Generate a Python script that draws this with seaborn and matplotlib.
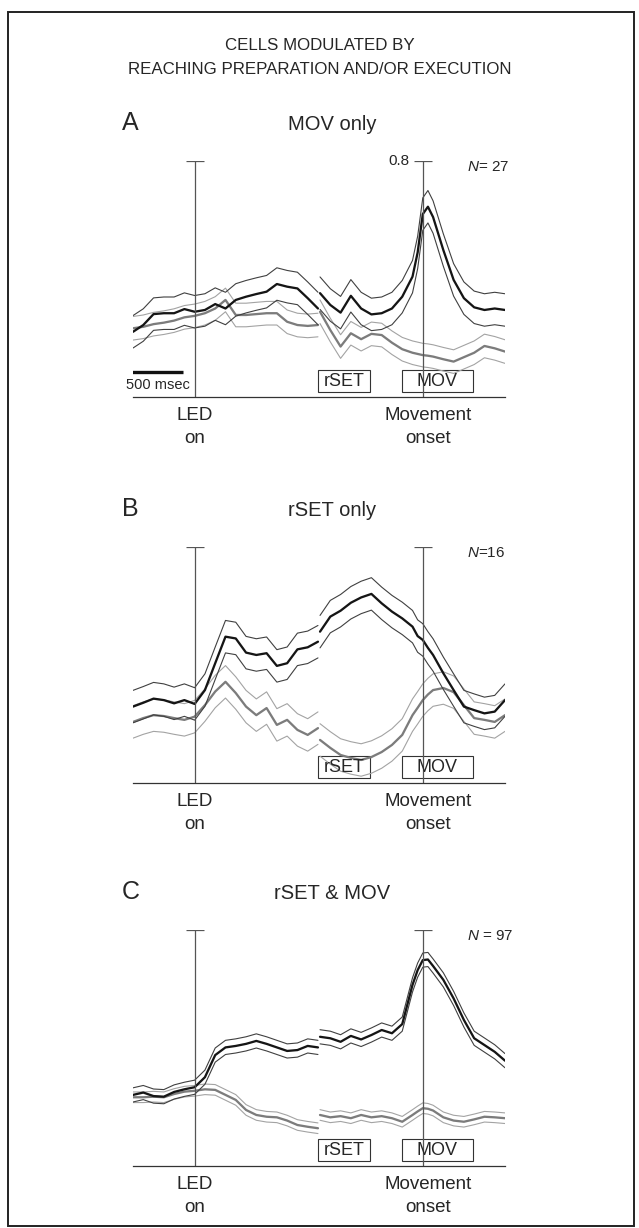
import matplotlib
matplotlib.use("Agg")
import numpy as np
import matplotlib.pyplot as plt
from matplotlib.patches import Rectangle
import seaborn as sns

sns.set_style("white")
plt.rcParams["font.family"] = ["Liberation Sans", "DejaVu Sans"]
plt.rcParams["mathtext.fontset"] = "custom"
plt.rcParams["mathtext.it"] = "Liberation Sans:italic"
plt.rcParams["mathtext.rm"] = "Liberation Sans"

# time grid (ms) of the two alignment windows
T_LED = [-600, -500, -400, -300, -200, -100, 0, 100, 200, 300, 400, 500,
         600, 700, 800, 900, 1000, 1100, 1200]
T_MOV = [-1000, -900, -800, -700, -600, -500, -400, -300, -200, -100, -50, 0,
         50, 100, 200, 300, 400, 500, 600, 700, 800]
MOV_OFFSET = 2220  # where movement onset sits on the shared x axis

# A: MOV only
A_LED_BLACK = [0.221, 0.244, 0.281, 0.284, 0.284, 0.298, 0.289, 0.295, 0.315, 0.300,
               0.329, 0.340, 0.349, 0.357, 0.383, 0.374, 0.368, 0.335, 0.300]
A_LED_GREY = [0.233, 0.238, 0.247, 0.252, 0.259, 0.270, 0.275, 0.284, 0.300, 0.329,
              0.278, 0.278, 0.281, 0.284, 0.284, 0.255, 0.244, 0.241, 0.244]
A_MOV_BLACK = [0.352, 0.312, 0.286, 0.343, 0.300, 0.280, 0.284, 0.300, 0.340, 0.408,
               0.490, 0.620, 0.645, 0.610, 0.498, 0.397, 0.335, 0.304, 0.295, 0.300,
               0.295]
A_MOV_GREY = [0.289, 0.227, 0.171, 0.216, 0.196, 0.214, 0.210, 0.184, 0.162, 0.150,
              0.146, 0.142, 0.140, 0.137, 0.128, 0.120, 0.135, 0.150, 0.173, 0.165,
              0.154]

# B: rSET only
B_LED_BLACK = [0.259, 0.272, 0.286, 0.281, 0.270, 0.281, 0.268, 0.315, 0.406, 0.496,
               0.490, 0.442, 0.434, 0.440, 0.397, 0.406, 0.453, 0.460, 0.479]
B_LED_GREY = [0.207, 0.220, 0.230, 0.227, 0.220, 0.214, 0.225, 0.264, 0.310, 0.343,
              0.305, 0.259, 0.230, 0.254, 0.197, 0.214, 0.180, 0.163, 0.186]
B_MOV_BLACK = [0.513, 0.564, 0.584, 0.611, 0.629, 0.641, 0.609, 0.581, 0.558, 0.530,
               0.498, 0.485, 0.458, 0.434, 0.372, 0.315, 0.259, 0.247, 0.236, 0.242,
               0.281]
B_MOV_GREY = [0.146, 0.119, 0.095, 0.085, 0.078, 0.088, 0.105, 0.129, 0.163, 0.230,
              0.255, 0.281, 0.300, 0.315, 0.322, 0.308, 0.264, 0.220, 0.214, 0.207,
              0.230]

# C: rSET & MOV
C_LED_BLACK = [0.241, 0.249, 0.237, 0.235, 0.251, 0.260, 0.267, 0.301, 0.376, 0.402,
               0.407, 0.414, 0.424, 0.414, 0.402, 0.390, 0.393, 0.407, 0.402]
C_LED_GREY = [0.233, 0.233, 0.235, 0.233, 0.244, 0.252, 0.255, 0.260, 0.258, 0.241,
              0.224, 0.190, 0.173, 0.167, 0.165, 0.154, 0.139, 0.133, 0.128]
C_MOV_BLACK = [0.438, 0.433, 0.421, 0.441, 0.429, 0.444, 0.461, 0.450, 0.481, 0.614,
               0.664, 0.698, 0.700, 0.678, 0.631, 0.568, 0.495, 0.433, 0.410, 0.387,
               0.357]
C_MOV_GREY = [0.173, 0.165, 0.169, 0.162, 0.173, 0.165, 0.169, 0.162, 0.150, 0.173,
              0.185, 0.196, 0.194, 0.188, 0.165, 0.154, 0.150, 0.158, 0.167, 0.165,
              0.162]

# SEM half-widths (black, grey) per panel
SEM_BLACK = [0.055, 0.055, 0.024]
SEM_GREY = [0.040, 0.055, 0.018]

LETTERS = ["A", "B", "C"]
SUBTITLES = ["MOV only", "rSET only", "rSET & MOV"]
N_LABELS = [r"$N$= 27", r"$N$=16", r"$N$ = 97"]

W, H = 639, 1228
# pixel rows of the 0.8 calibration cap and of the time axis, per panel
CAP_PX = [161, 547, 930]
BASE_PX = [397, 783, 1166]

fig = plt.figure(figsize=(W / 100, H / 100), dpi=100)
fig.patch.set_facecolor("white")
fig.add_artist(Rectangle((8 / W, 1 - 1226 / H), 626 / W, 1214 / H, fill=False,
                         ec="#222222", lw=1.4, transform=fig.transFigure))
fig.text(320 / W, 1 - 45 / H, "CELLS MODULATED BY", ha="center", va="center",
         fontsize=12.2)
fig.text(320 / W, 1 - 69 / H, "REACHING PREPARATION AND/OR EXECUTION",
         ha="center", va="center", fontsize=12.2)

series = [
    (A_LED_BLACK, A_LED_GREY, A_MOV_BLACK, A_MOV_GREY),
    (B_LED_BLACK, B_LED_GREY, B_MOV_BLACK, B_MOV_GREY),
    (C_LED_BLACK, C_LED_GREY, C_MOV_BLACK, C_MOV_GREY),
]

x_led = np.array(T_LED)
x_mov = np.array(T_MOV) + MOV_OFFSET

for i, (led_b, led_g, mov_b, mov_g) in enumerate(series):
    cap, base = CAP_PX[i], BASE_PX[i]
    ax = fig.add_axes([133 / W, 1 - base / H, 372 / W, (base - cap) / H])
    ax.set_xlim(-600, 3020)
    ax.set_ylim(0, 0.8)

    for xs, ys, sem, c_mean, c_band in [
        (x_led, led_g, SEM_GREY[i], "#7c7c7c", "#a3a3a3"),
        (x_mov, mov_g, SEM_GREY[i], "#7c7c7c", "#a3a3a3"),
        (x_led, led_b, SEM_BLACK[i], "#151515", "#404040"),
        (x_mov, mov_b, SEM_BLACK[i], "#151515", "#404040"),
    ]:
        ys = np.array(ys)
        for yy, c, w in [(ys + sem, c_band, 0.8), (ys - sem, c_band, 0.8),
                         (ys, c_mean, 1.65)]:
            sns.lineplot(x=xs, y=yy, ax=ax, color=c, linewidth=w,
                         estimator=None, sort=False, legend=False,
                         solid_joinstyle="round")

    # event lines with calibration caps
    for xe in (0, MOV_OFFSET):
        ax.vlines(xe, 0, 0.8, color="#555555", lw=0.9)
        ax.hlines(0.8, xe - 88, xe + 88, color="#555555", lw=0.9)

    # epoch boxes
    for x0, x1, label in [(1200, 1706, "rSET"), (2017, 2708, "MOV")]:
        ax.add_patch(Rectangle((x0, 0.018), x1 - x0, 0.074, fill=False,
                               ec="#333333", lw=0.8))
        ax.text((x0 + x1) / 2, 0.053, label, ha="center", va="center",
                fontsize=13)

    # time axis
    sns.despine(ax=ax, left=True, top=True, right=True)
    ax.spines["bottom"].set_color("#333333")
    ax.spines["bottom"].set_linewidth(0.9)
    ax.set_yticks([])
    ax.set_xticks([1000, 1220])
    ax.set_xticks([-600, -400, -200, 0, 200, 400, 600, 800, 1200,
                   1420, 1620, 1820, 2020, 2220, 2420, 2620, 2820, 3020],
                  minor=True)
    ax.set_xticklabels([])
    ax.tick_params(axis="x", which="major", direction="in", length=5,
                   width=0.8, color="#333333")
    ax.tick_params(axis="x", which="minor", direction="in", length=2.5,
                   width=0.8, color="#333333")
    ax.set_xlabel("")
    ax.set_ylabel("")
    ax.patch.set_alpha(0)

    ax.text(0, -0.064, "LED", ha="center", va="center", fontsize=13.5)
    ax.text(0, -0.139, "on", ha="center", va="center", fontsize=13.5)
    ax.text(2270, -0.064, "Movement", ha="center", va="center", fontsize=13.5)
    ax.text(2270, -0.139, "onset", ha="center", va="center", fontsize=13.5)

    ax.text(-707, 0.905, LETTERS[i], ha="left", va="baseline", fontsize=18)
    ax.text(1336, 0.905, SUBTITLES[i], ha="center", va="baseline", fontsize=14.5)
    ax.text(2650, 0.78, N_LABELS[i], ha="left", va="center", fontsize=11)

    if i == 0:
        ax.text(2095, 0.8, "0.8", ha="right", va="center", fontsize=11)
        ax.plot([-610, -110], [0.085, 0.085], color="#111111", lw=2.4,
                solid_capstyle="butt")
        ax.text(-357, 0.041, "500 msec", ha="center", va="center",
                fontsize=10.5)

fig.savefig("out.png", dpi=100)
